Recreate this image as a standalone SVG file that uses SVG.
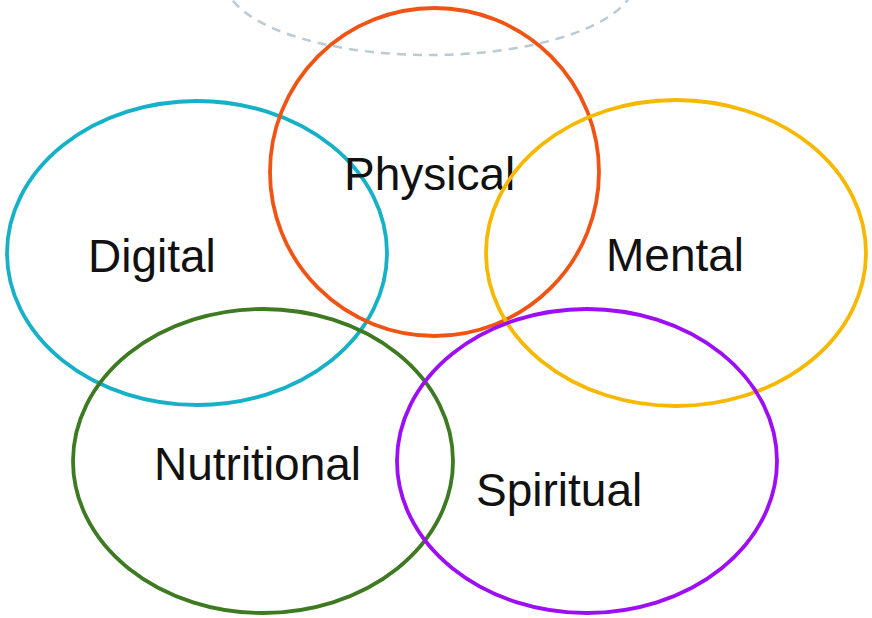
<svg xmlns="http://www.w3.org/2000/svg" width="872" height="618" viewBox="0 0 872 618">
<style>
.ring{fill:none;stroke-width:3.8}
.lbl{font-family:"Liberation Sans",Arial,sans-serif;font-size:46px;fill:#111}
</style>
<rect width="872" height="618" fill="#fff"/>
<g id="background-arc">
<ellipse cx="430" cy="-20" rx="205" ry="75" fill="none" stroke="#b9cbd5" stroke-width="2.5" stroke-dasharray="9 7"/>
</g>
<g id="digital"><ellipse class="ring" cx="197" cy="253" rx="190" ry="152" stroke="#17b1c7"/><text class="lbl" x="88" y="272">Digital</text></g>
<g id="physical"><ellipse class="ring" cx="434.5" cy="172" rx="164.5" ry="164" stroke="#ef5414"/><text class="lbl" x="344" y="190">Physical</text></g>
<g id="mental"><ellipse class="ring" cx="676" cy="253" rx="190" ry="153" stroke="#f6b800"/><text class="lbl" x="606" y="271">Mental</text></g>
<g id="nutritional"><ellipse class="ring" cx="263" cy="461" rx="190" ry="152" stroke="#3e7a22"/><text class="lbl" x="154" y="480">Nutritional</text></g>
<g id="spiritual"><ellipse class="ring" cx="587" cy="461" rx="190" ry="152" stroke="#9d0ef5"/><text class="lbl" x="476" y="506">Spiritual</text></g>
<g id="connectors"></g>
</svg>
